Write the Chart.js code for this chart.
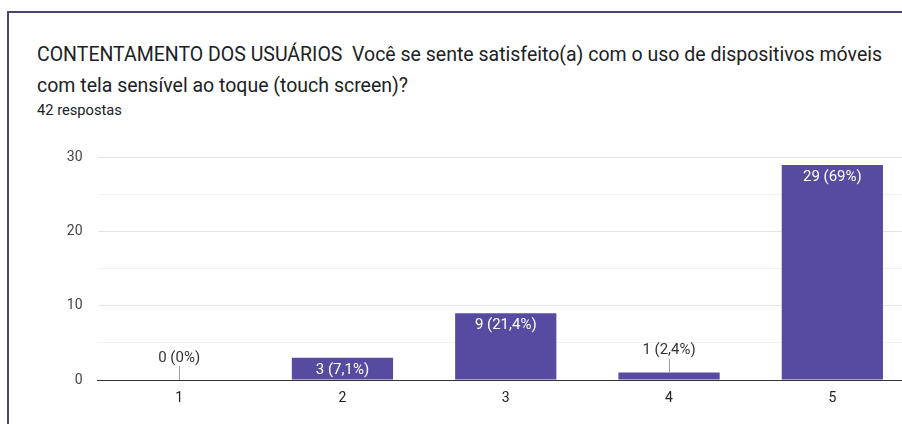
<!DOCTYPE html>
<html>
<head>
<meta charset="utf-8">
<script src="https://cdn.jsdelivr.net/npm/chart.js@4"></script>
<style>
  html, body { margin: 0; padding: 0; background: #fff; overflow: hidden; }
  .hline { position: absolute; left: 7px; top: 11px; width: 895px; height: 2px; background: #4f4373; }
  .vline { position: absolute; left: 7px; top: 11px; width: 2px; height: 413px; background: #4f4373; }
  .title { position: absolute; left: 37px; top: 39px; font-family: Roboto, sans-serif;
           font-size: 19.5px; line-height: 31px; color: #202124; white-space: pre; }
  .sub { position: absolute; left: 37px; top: 101px; font-family: Roboto, sans-serif;
         font-size: 14.7px; color: #202124; }
  #wrap { position: absolute; left: 0; top: 140px; width: 902px; height: 284px; overflow: hidden; }
</style>
</head>
<body>
<div class="hline"></div>
<div class="vline"></div>
<div class="title">CONTENTAMENTO DOS USUÁRIOS  Você se sente satisfeito(a) com o uso de dispositivos móveis
com tela sensível ao toque (touch screen)?</div>
<div class="sub">42 respostas</div>
<div id="wrap"><canvas id="chart" width="914" height="284"></canvas></div>
<script>
// valeurs
const categories = ['1', '2', '3', '4', '5'];
const counts = [0, 3, 9, 1, 29];
const percents = ['0%', '7,1%', '21,4%', '2,4%', '69%'];
const yMax = 30;

const barColor = '#564ba0';

// étiquettes des barres (dans la barre ou au-dessus avec un trait)
const barLabels = {
    id: 'barLabels',
    afterDatasetsDraw(chart) {
        const c = chart.ctx;
        const meta = chart.getDatasetMeta(0);
        c.save();
        c.font = '15px Roboto, sans-serif';
        c.textAlign = 'center';
        c.textBaseline = 'middle';
        meta.data.forEach((bar, i) => {
            const txt = counts[i] + ' (' + percents[i] + ')';
            const h = bar.base - bar.y;
            if (h > 18) {
                c.fillStyle = '#ffffff';
                c.fillText(txt, bar.x, bar.y + 12);
            } else {
                const top = bar.y - 14;
                c.strokeStyle = '#9e9e9e';
                c.lineWidth = 1;
                c.beginPath();
                c.moveTo(Math.round(bar.x) + 0.5, bar.y);
                c.lineTo(Math.round(bar.x) + 0.5, top);
                c.stroke();
                c.fillStyle = '#333333';
                c.fillText(txt, bar.x, top - 8);
            }
        });
        c.restore();
    }
};

const ctx = document.getElementById('chart').getContext('2d');
new Chart(ctx, {
    type: 'bar',
    data: {
        labels: categories,
        datasets: [{
            data: counts,
            backgroundColor: barColor,
            barPercentage: 0.62,
            categoryPercentage: 1.0,
        }]
    },
    options: {
        responsive: false,
        animation: false,
        devicePixelRatio: 1,
        layout: { padding: { top: 17.5, right: 0, bottom: 0, left: 0 } },
        plugins: { legend: { display: false }, tooltip: { enabled: false } },
        scales: {
            x: {
                afterFit(s) { s.height = 44; s.paddingLeft = 0; s.paddingRight = 0; },
                grid: { display: true, drawOnChartArea: false, drawTicks: false },
                border: { display: true, color: '#333333', width: 1 },
                ticks: { padding: 10, color: '#222222', font: { family: 'Roboto, sans-serif', size: 14 } }
            },
            y: {
                min: 0,
                max: yMax,
                afterFit(s) { s.width = 97.5; s.paddingTop = 0; s.paddingBottom = 0; },
                border: { display: false },
                grid: {
                    drawTicks: false,
                    color: (c) => (c.tick.value % 10 === 0 ? '#e3e3e3' : '#f2f2f2')
                },
                ticks: {
                    stepSize: 5,
                    padding: 15,
                    color: '#444444',
                    font: { family: 'Roboto, sans-serif', size: 14 },
                    callback: (v) => (v % 10 === 0 ? v : '')
                }
            }
        }
    },
    plugins: [barLabels]
});
</script>
</body>
</html>
